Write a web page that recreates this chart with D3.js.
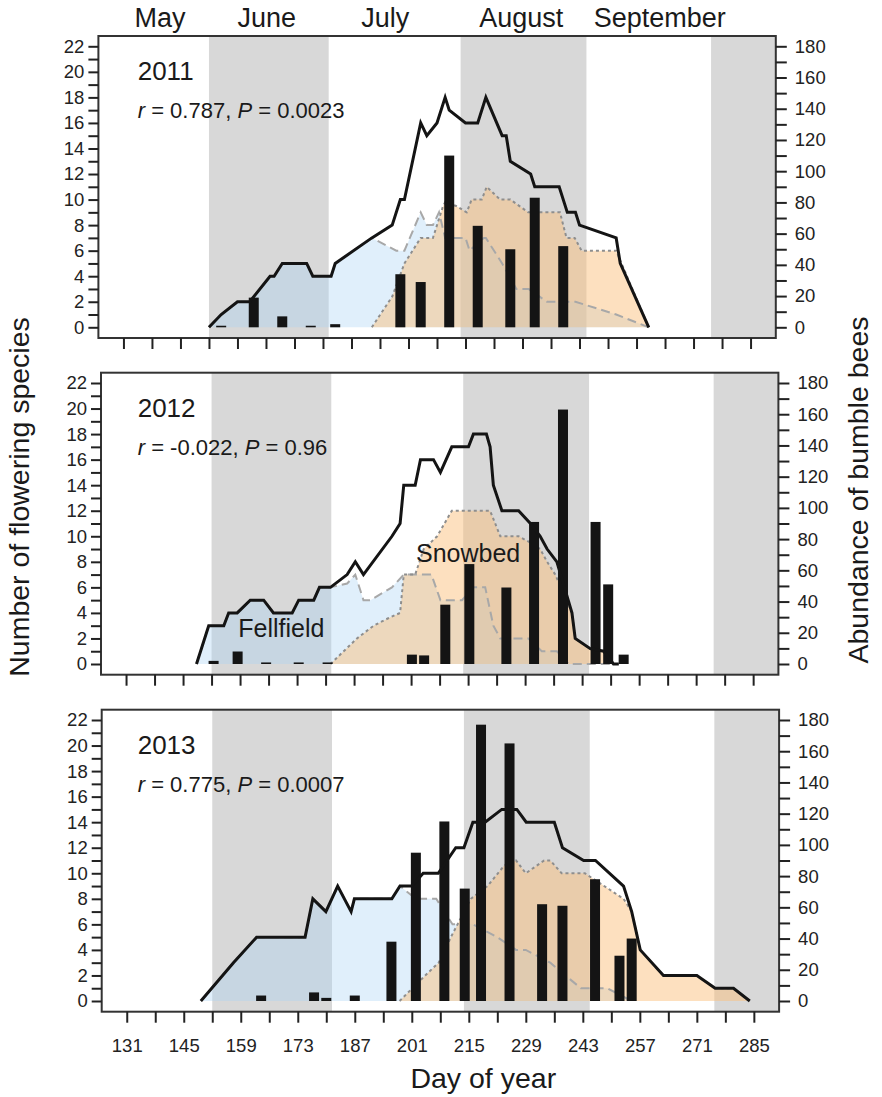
<!DOCTYPE html>
<html>
<head>
<meta charset="utf-8">
<script src="https://cdn.jsdelivr.net/npm/d3@7"></script>
<style>
  body { margin: 0; background: #fff; }
  svg { display: block; font-family: "Liberation Sans", Arial, Helvetica, sans-serif; }
</style>
</head>
<body>
<svg id="chart" width="882" height="1097"></svg>
<script>
// ---- data: [day of year, number of flowering species] ----
const total2011 = [[152,0],[155,1],[159,2],[162,2],[167,4],[168,4],[170,5],[176,5],[177.5,4],[182,4],[183,5],[192,7],[197,8],[199,10],[200,10],[204,16],[205.5,15],[208,16],[210,18],[211,17],[215,16],[218,16],[220,18],[224,15],[225,15],[226,13],[231,12],[232,11],[238,11],[240,9],[242,9],[243,8],[252,7],[253,5],[260,0]];
const fell2011  = [[152,0],[155,1],[159,2],[162,2],[167,4],[168,4],[170,5],[176,5],[177.5,4],[182,4],[183,5],[192,7],[198,6],[200,6],[204,9],[205.5,8],[207,8],[208.5,9],[210,7],[215,7],[216,6],[219.5,7],[220,7],[224,5],[227.5,3],[230.5,3],[235,2],[242,2],[252,1],[260,0]];
const snow2011  = [[192,0],[197,2.4],[200,5],[204,7],[207,7],[209.5,9.5],[210,9.8],[212.7,9.5],[215.3,9],[216.5,10],[219,10],[220.2,11],[223.5,10],[226,10],[230.4,9],[238.2,9],[239.8,7],[241.8,7],[243.5,6],[252,6],[253.3,5],[260,0]];
const beeDays2011 = [155,163,170,177,183,199,204,211,218,226,232,239];
const bees2011    = [1,19,7,1,2,34,29,110,65,50,83,52];

const total2012 = [[148.3,0],[151.3,3],[155,3],[156.2,4],[158.3,4],[161.5,5],[164.8,5],[167.2,4],[171.8,4],[173.4,5],[177.1,5],[178.5,6],[181.2,6],[185.3,7],[187.3,8],[189.3,7],[196.3,10],[198.3,11],[199.2,14],[202,14],[203.3,16],[206.5,16],[208.2,15],[211,17],[215.1,17],[216.3,18],[219.5,18],[220.4,17],[221.2,14],[223.3,12],[227.4,12],[230.3,11],[232.7,10],[234.4,9],[236.8,8],[240.5,4],[241.3,2],[245,1.2],[248.3,1],[250.7,0],[252,0]];
const fell2012  = [[148.3,0],[151.3,3],[155,3],[156.2,4],[158.3,4],[161.5,5],[164.8,5],[167.2,4],[171.8,4],[173.4,5],[177.1,5],[178.5,6],[181.2,6],[185.3,6.3],[187.3,7],[189.3,5],[191,5],[196.3,6],[199.2,7],[206,7],[208.2,5],[213.5,5],[216.3,6],[219.2,6],[221.2,3],[222.9,2],[229.8,2],[233.1,1],[236.8,1],[239.7,0],[252,0]];
const snow2012  = [[181.2,0],[187.7,2],[191.8,3],[195.5,3.6],[198.3,4],[199.2,7],[202,7],[204.1,9],[207.4,10],[211,12],[220.4,12],[222.9,10],[227.4,10],[230.3,9.5],[232.7,9],[234.4,8],[236.4,7],[240.5,4],[241.3,2],[245,1.2],[248.3,1],[250.7,0]];
const beeDays2012 = [152.5,158.4,165.4,173.4,180.5,201.2,204.2,209.4,215.3,224.4,231.2,238.3,246.3,249.4,253.2];
const bees2012    = [2,8,1,1,1,6,5.5,38,64,49,91,163,91,51,6];

const total2013 = [[149.2,0],[157.2,3],[162.9,5],[174.8,5],[176.7,8],[179.9,7],[182.8,9],[186.1,7],[186.9,8],[196.1,8],[198.1,9],[201,9],[203.8,10],[207.5,10],[211.8,12],[213.8,12],[216,14],[219,14],[223.1,15],[226.8,15],[229.1,14],[236,14],[238,12],[243.2,11],[246.1,11],[253,9],[255,7],[257.1,4],[262.8,2],[271,2],[275.5,1],[280,1],[284,0]];
const fell2013  = [[149.2,0],[157.2,3],[162.9,5],[174.8,5],[176.7,8],[179.9,7],[182.8,9],[186.1,7],[186.9,8],[196.1,8],[198.1,9],[202,8],[207,8],[211,6],[216,6],[222,5],[226.6,4],[229,4],[235,3],[242.5,1],[249,1],[255,0]];
const snow2013  = [[198,0],[204.3,2],[207.6,3],[210.6,5],[215.5,8],[219.6,9],[223.7,10.6],[226.6,11],[229,10],[233.5,11],[235,11],[237.8,10],[243.5,10],[253,8],[255,7],[257.1,4],[262.8,2],[271,2],[275.5,1],[280,1],[284,0]];
const beeDays2013 = [164,177,180,187,196,202,209,214,218,225,233,238,246,252,255];
const bees2013    = [3.5,5.5,2,3.5,38,95,115,72,177,165,62,61,78,29,40];

const yearLabels = ["2011", "2012", "2013"];
const statR = ["0.787", "-0.022", "0.775"];
const statP = ["0.0023", "0.96", "0.0007"];

// calendar: shaded months (June, August, October) and month names
const shadedMonths = [[152, 181.4], [213.8, 244.7], [275.3, 300]];
const monthNames = ["May", "June", "July", "August", "September"];
const monthLabelDays = [140, 166.2, 195.3, 228.7, 262.7];

const dayTicks = d3.range(131, 286, 7);
const speciesTicks = d3.range(0, 23, 1);
const beeTicks = d3.range(0, 181, 10);

const years = [
  { total: total2011, fell: fell2011, snow: snow2011, beeDays: beeDays2011, bees: bees2011 },
  { total: total2012, fell: fell2012, snow: snow2012, beeDays: beeDays2012, bees: bees2012 },
  { total: total2013, fell: fell2013, snow: snow2013, beeDays: beeDays2013, bees: bees2013 }
];

// ---- layout ----
const svg = d3.select("#chart");
const panelLeft = [98.4, 101, 101.7];
const panelTop = [36, 372.7, 709.7];
const panelW = 677.4, panelH = 302;

const x = d3.scaleLinear().domain([124.85, 291.2]).range([0, panelW]);
const ySp = d3.scaleLinear().domain([0, 22]).range([291.3, 10.3]);
const yBee = d3.scaleLinear().domain([0, 180]).range([291.3, 10.3]);

const fellFill = "rgba(168,212,244,0.36)";
const snowFill = "rgba(250,190,122,0.48)";

const areaSp = d3.area().x(d => x(d[0])).y0(ySp(0)).y1(d => ySp(d[1]));
const lineSp = d3.line().x(d => x(d[0])).y(d => ySp(d[1]));

years.forEach((yr, i) => {
  const g = svg.append("g").attr("transform", `translate(${panelLeft[i]},${panelTop[i]})`);
  const clipId = "clip" + i;
  g.append("clipPath").attr("id", clipId)
    .append("rect").attr("width", panelW).attr("height", panelH);
  const body = g.append("g").attr("clip-path", `url(#${clipId})`);

  // shaded months
  body.selectAll("rect.band").data(shadedMonths).join("rect")
    .attr("class", "band")
    .attr("x", d => x(d[0])).attr("width", d => x(d[1]) - x(d[0]))
    .attr("y", 0).attr("height", panelH)
    .attr("fill", "#d8d8d8");

  // community areas
  body.append("path").datum(yr.fell).attr("d", areaSp).attr("fill", fellFill);
  body.append("path").datum(yr.snow).attr("d", areaSp).attr("fill", snowFill);
  body.append("path").datum(yr.fell).attr("d", lineSp)
    .attr("fill", "none").attr("stroke", "#a8a8a8").attr("stroke-width", 2)
    .attr("stroke-dasharray", "9,5");
  body.append("path").datum(yr.snow).attr("d", lineSp)
    .attr("fill", "none").attr("stroke", "#8e8e8e").attr("stroke-width", 2)
    .attr("stroke-dasharray", "3,3");

  // bumble bee abundance
  const beeData = yr.beeDays.map((d, k) => [d, yr.bees[k]]);
  body.selectAll("rect.bee").data(beeData).join("rect")
    .attr("class", "bee")
    .attr("x", d => x(d[0]) - 5).attr("width", 10)
    .attr("y", d => yBee(d[1])).attr("height", d => yBee(0) - yBee(d[1]))
    .attr("fill", "#141414");

  // all flowering species
  body.append("path").datum(yr.total).attr("d", lineSp)
    .attr("fill", "none").attr("stroke", "#141414").attr("stroke-width", 3)
    .attr("stroke-linejoin", "miter").attr("stroke-miterlimit", 6);

  // frame
  g.append("rect").attr("width", panelW).attr("height", panelH)
    .attr("fill", "none").attr("stroke", "#333").attr("stroke-width", 2);

  // axes
  const left = g.append("g").call(
    d3.axisLeft(ySp).tickValues(speciesTicks).tickSize(10).tickPadding(4)
      .tickFormat(d => d % 2 === 0 ? d : ""));
  const right = g.append("g").attr("transform", `translate(${panelW},0)`).call(
    d3.axisRight(yBee).tickValues(beeTicks).tickSize(11).tickPadding(8)
      .tickFormat(d => d % 20 === 0 ? d : ""));
  const bottom = g.append("g").attr("transform", `translate(0,${panelH})`).call(
    d3.axisBottom(x).tickValues(dayTicks).tickSize(11).tickPadding(16)
      .tickFormat(d => (i === 2 && (d - 131) % 14 === 0) ? d : ""));
  [left, right, bottom].forEach(a => {
    a.select(".domain").remove();
    a.selectAll(".tick line").attr("stroke", "#222").attr("stroke-width", 2);
    a.selectAll(".tick text").attr("fill", "#222")
      .style("font-size", "18.5px").style("font-family", "'Liberation Sans', Arial, sans-serif");
  });

  // year and correlation
  g.append("text").attr("x", 137.7 - panelLeft[i]).attr("y", 44)
    .attr("font-size", 26).attr("fill", "#1a1a1a").text(yearLabels[i]);
  const st = g.append("text").attr("x", 137.7 - panelLeft[i]).attr("y", 82)
    .attr("font-size", 22).attr("fill", "#1a1a1a");
  st.append("tspan").attr("font-style", "italic").text("r");
  st.append("tspan").text(" = " + statR[i] + ", ");
  st.append("tspan").attr("font-style", "italic").text("P");
  st.append("tspan").text(" = " + statP[i]);
});

// community labels in 2012 panel
svg.append("text").attr("x", 238.3).attr("y", 636.7).attr("font-size", 25)
  .attr("fill", "#1a1a1a").text("Fellfield");
svg.append("text").attr("x", 416).attr("y", 561.7).attr("font-size", 25)
  .attr("fill", "#1a1a1a").text("Snowbed");

// month names across the top
svg.selectAll("text.month").data(monthNames).join("text")
  .attr("class", "month")
  .attr("x", (d, k) => panelLeft[0] + x(monthLabelDays[k]))
  .attr("y", 27).attr("text-anchor", "middle")
  .attr("font-size", 27).attr("fill", "#1a1a1a").text(d => d);

// axis titles
svg.append("text").attr("transform", "translate(29,497) rotate(-90)")
  .attr("text-anchor", "middle").attr("font-size", 28.5).attr("fill", "#1a1a1a")
  .text("Number of flowering species");
svg.append("text").attr("transform", "translate(868,490) rotate(-90)")
  .attr("text-anchor", "middle").attr("font-size", 28.5).attr("fill", "#1a1a1a")
  .text("Abundance of bumble bees");
svg.append("text").attr("x", 483.3).attr("y", 1088)
  .attr("text-anchor", "middle").attr("font-size", 28.5).attr("fill", "#1a1a1a")
  .text("Day of year");
</script>
</body>
</html>
